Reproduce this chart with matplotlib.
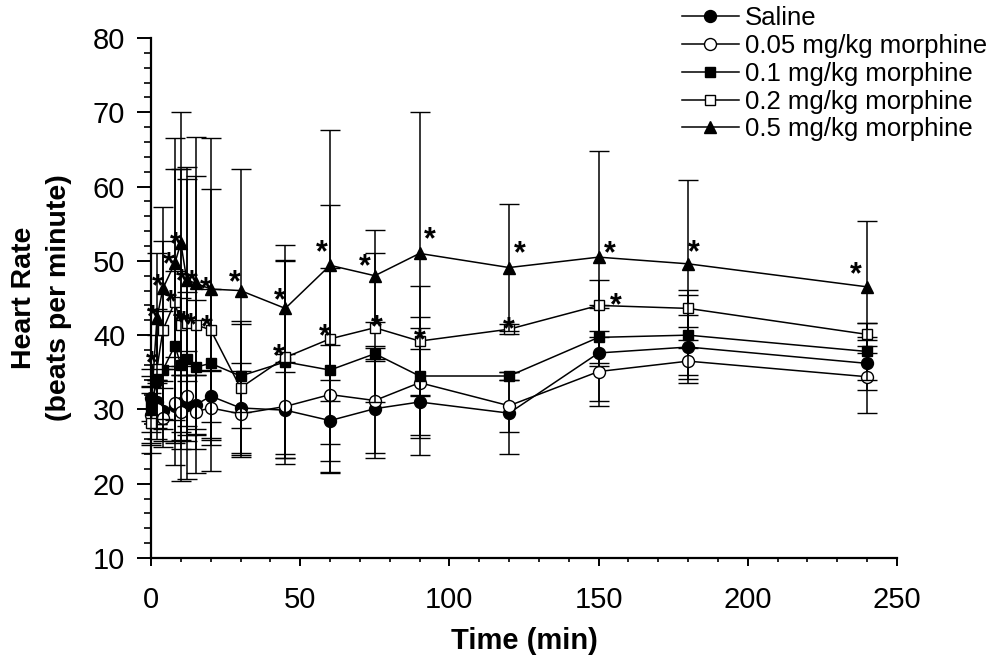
import matplotlib
matplotlib.use("Agg")
import matplotlib.pyplot as plt
from matplotlib.ticker import MultipleLocator

plt.rcParams['font.family'] = ['Liberation Sans', 'DejaVu Sans']

times = [0, 2, 4, 8, 10, 12, 15, 20, 30, 45, 60, 75, 90, 120, 150, 180, 240]

labels = ["Saline", "0.05 mg/kg morphine", "0.1 mg/kg morphine",
          "0.2 mg/kg morphine", "0.5 mg/kg morphine"]

saline = [31.5, 31.0, 29.8, 30.5, 30.9, 30.6, 30.6, 31.8, 30.2, 29.9, 28.5, 30.1, 31.0, 29.5, 37.6, 38.4, 36.2]
saline_sd = [3.0, 3.0, 4.0, 5.0, 5.0, 4.0, 4.0, 3.5, 6.0, 6.5, 5.4, 6.7, 7.2, 5.5, 6.5, 4.3, 3.6]

m005 = [29.2, 30.0, 28.9, 30.8, 29.7, 31.8, 29.7, 30.2, 29.4, 30.4, 32.0, 31.2, 33.6, 30.5, 35.1, 36.5, 34.4]
m005_sd = [4.0, 4.0, 4.0, 5.0, 5.0, 6.0, 5.0, 5.0, 5.8, 7.0, 6.7, 7.1, 7.4, 3.5, 4.6, 2.9, 4.9]

m01 = [30.5, 34.0, 35.3, 38.6, 36.0, 36.8, 35.7, 36.2, 34.5, 36.4, 35.3, 37.5, 34.5, 34.5, 39.7, 40.0, 37.8]
m01_sd = [5.0, 6.0, 8.0, 10.0, 9.0, 9.0, 9.0, 10.0, 7.0, 13.7, 13.7, 1.0, 8.0, 0.6, 3.9, 5.4, 3.9]

m02 = [28.2, 35.5, 40.7, 44.5, 41.3, 41.6, 41.4, 40.7, 32.9, 37.0, 39.5, 41.0, 39.2, 40.8, 44.0, 43.6, 40.1]
m02_sd = [4.0, 8.0, 12.0, 22.0, 21.0, 21.0, 20.0, 19.0, 9.0, 13.0, 18.0, 10.0, 7.4, 0.7, 3.4, 2.5, 1.5]

m05 = [30.0, 42.3, 46.3, 49.7, 52.4, 47.4, 47.0, 46.2, 46.0, 43.6, 49.4, 48.0, 51.0, 49.1, 50.5, 49.6, 46.5]
m05_sd = [3.0, 8.8, 10.9, 12.7, 17.7, 13.6, 19.7, 20.3, 16.3, 8.5, 18.2, 6.2, 19.0, 8.5, 14.3, 11.3, 8.9]

means = [saline, m005, m01, m02, m05]
sds = [saline_sd, m005_sd, m01_sd, m02_sd, m05_sd]

# significance stars: (series index, time)
star_series = [4] * 16 + [3] * 12
star_times = [2, 4, 8, 10, 12, 15, 20, 30, 45, 60, 75, 90, 120, 150, 180, 240,
              2, 8, 10, 12, 15, 20, 45, 60, 75, 90, 120, 150]
# pixel offsets of the star centre from the data point (right, down)
star_dx = [-4, -5, -6, -5, -5, -4, -5, -6, -5, -8, -10, 10, 11, 11, 6, -11,
           -5, -4, -2, -3, -5, -4, -6, -5, 2, 0, 0, 17]
star_dy = [-10, -11, -8, -8, -8, -10, -9, -17, -17, -22, -18, -23, -23, -13, -20, -21,
           -14, -8, -12, -9, -8, -11, -10, -11, -9, -10, -9, -9]

markers = ['o', 'o', 's', 's', '^']
mfcs = ['black', 'white', 'black', 'white', 'black']
msizes = [8.6, 8.6, 7.6, 7.6, 8.8]

W, H = 994, 655
fig = plt.figure(figsize=(W / 100, H / 100), dpi=100)
ax = fig.add_axes([151 / W, 1 - 558 / H, (897 - 151) / W, (558 - 38) / H])

handles = []
for i in range(5):
    cont = ax.errorbar(times, means[i], yerr=sds[i], color='black', lw=1.1,
                       elinewidth=1.1, capsize=7.2, capthick=1.1,
                       marker=markers[i], mfc=mfcs[i], mec='black', mew=1.0,
                       ms=msizes[i], zorder=3 + i)
    cont[0].set_clip_on(False)
    for cap in cont[1]:
        cap.set_clip_on(False)
    for coll in cont[2]:
        coll.set_clip_on(False)
    handles.append(cont[0])

px2pt = 0.72
star_fs = 22
for s, t, dx, dy in zip(star_series, star_times, star_dx, star_dy):
    j = times.index(t)
    y = means[s][j]
    ax.annotate('*', xy=(t, y),
                xytext=(dx * px2pt, -(dy + 0.58 * star_fs / px2pt) * px2pt),
                textcoords='offset points', ha='center', va='baseline',
                fontsize=star_fs, fontweight='bold', zorder=10, annotation_clip=False)

ax.set_xlim(0, 250)
ax.set_ylim(10, 80)
ax.xaxis.set_major_locator(MultipleLocator(50))
ax.xaxis.set_minor_locator(MultipleLocator(10))
ax.yaxis.set_major_locator(MultipleLocator(10))
ax.yaxis.set_minor_locator(MultipleLocator(2))

for sp in ['top', 'right']:
    ax.spines[sp].set_visible(False)
ax.spines['left'].set_linewidth(1.6)
ax.spines['bottom'].set_linewidth(1.6)

ax.tick_params(axis='y', which='major', length=10, width=1.4, labelsize=21, pad=8.5)
ax.tick_params(axis='y', which='minor', length=5, width=1.2)
ax.tick_params(axis='x', which='major', length=5.5, width=1.4, labelsize=21, pad=15)
ax.tick_params(axis='x', which='minor', length=3, width=1.2)

ax.set_xlabel('Time (min)', fontsize=21, fontweight='bold', labelpad=9)
ax.set_ylabel('Heart Rate\n(beats per minute)', fontsize=20.5, fontweight='bold',
              labelpad=15, linespacing=1.45)

leg = fig.legend(handles, labels, loc='upper left',
                 bbox_to_anchor=(682 / W, 1 - 6 / H), frameon=False,
                 fontsize=18.5, handlelength=2.2, handletextpad=0.25,
                 labelspacing=0.15, borderpad=0, borderaxespad=0)

fig.savefig('out.png', dpi=100)
